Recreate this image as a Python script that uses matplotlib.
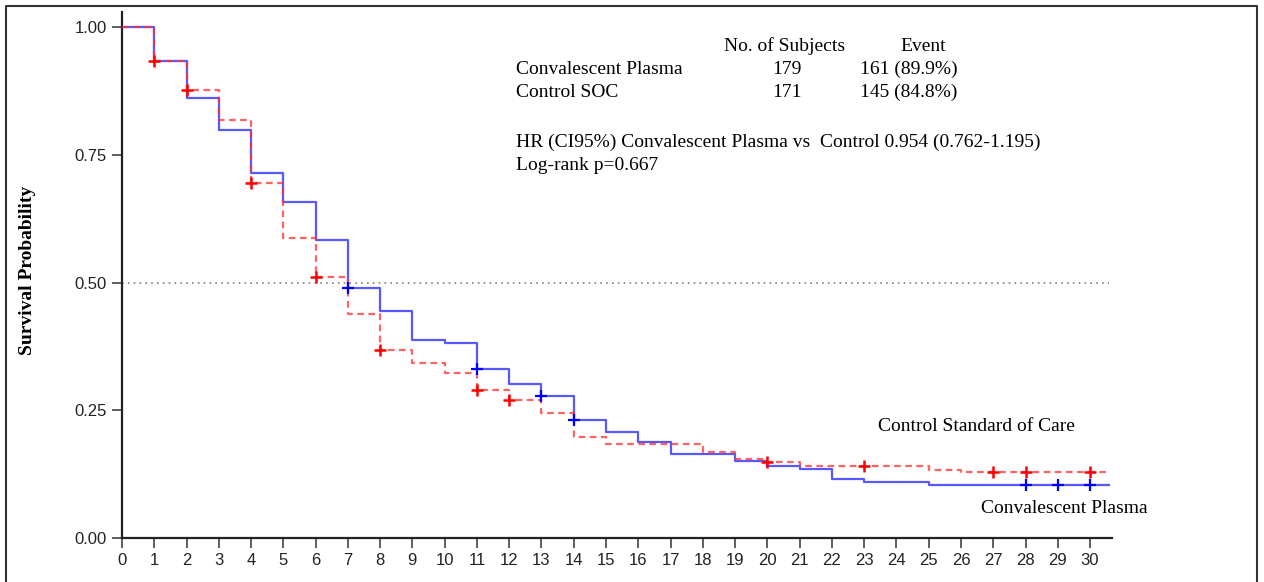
import matplotlib
matplotlib.use('Agg')
import matplotlib.pyplot as plt
from matplotlib.lines import Line2D
import numpy as np

# ── data ───────────────────────────────────────────────────────────────────
days = list(range(0, 31))

# survival estimate on each interval [day, day+1)
cp_surv = [1.000, 0.935, 0.861, 0.798, 0.714, 0.658, 0.583, 0.489, 0.444, 0.387,
           0.382, 0.331, 0.301, 0.278, 0.231, 0.207, 0.188, 0.164, 0.164, 0.151,
           0.141, 0.135, 0.115, 0.110, 0.110, 0.104, 0.104, 0.104, 0.104, 0.104,
           0.104]
soc_surv = [1.000, 0.935, 0.877, 0.818, 0.695, 0.587, 0.511, 0.438, 0.368, 0.342,
            0.323, 0.290, 0.270, 0.245, 0.198, 0.184, 0.184, 0.184, 0.168, 0.155,
            0.149, 0.141, 0.141, 0.141, 0.141, 0.133, 0.129, 0.129, 0.129, 0.129,
            0.129]
end_day = 30.6

cp_censor = [7, 11, 13, 14, 28, 29, 30]
soc_censor = [1, 2, 4, 6, 8, 11, 12, 20, 23, 27, 28, 30]

table_rows = ['Convalescent Plasma', 'Control SOC']
table_n = ['179', '171']
table_events = ['161 (89.9%)', '145 (84.8%)']

SERIF = ['Liberation Serif', 'DejaVu Serif']
SANS = ['Liberation Sans', 'DejaVu Sans']


def step_xy(surv):
    x = np.append(days, end_day)
    y = np.append(surv, surv[-1])
    return x, y


def surv_at(surv, t):
    return surv[min(int(t), len(surv) - 1)]


fig = plt.figure(figsize=(12.64, 5.82), dpi=100)
ax = fig.add_axes([122 / 1264, 1 - 538 / 582, 990 / 1264, 526 / 582])

x, y = step_xy(soc_surv)
ax.step(x, y, where='post', color='#ff3030', lw=1.6, ls=(0, (3, 2)), alpha=0.75, zorder=3)
x, y = step_xy(cp_surv)
ax.step(x, y, where='post', color='#2020ff', lw=1.6, alpha=0.75, zorder=2)

ax.plot(soc_censor, [surv_at(soc_surv, t) for t in soc_censor], ls='none',
        marker='+', ms=8, mew=1.8, color='red', zorder=4)
ax.plot(cp_censor, [surv_at(cp_surv, t) for t in cp_censor], ls='none',
        marker='+', ms=8, mew=1.6, color='blue', zorder=4)

ax.plot([0, end_day], [0.5, 0.5], color='#808080', lw=1.2, ls=(0, (1, 2.5)), zorder=1)

ax.set_xlim(0, 30.68)
ax.set_ylim(0, 1.03)
ax.set_xticks(days)
ax.set_yticks([0, 0.25, 0.5, 0.75, 1.0])
ax.set_yticklabels(['0.00', '0.25', '0.50', '0.75', '1.00'])
for lab in ax.get_xticklabels() + ax.get_yticklabels():
    lab.set_family(SANS)
    lab.set_fontsize(12)
    lab.set_color('#222222')
ax.tick_params(axis='both', direction='out', length=7, width=1.1, color='#333333', pad=4)
ax.spines[['top', 'right']].set_visible(False)
ax.spines[['left', 'bottom']].set_linewidth(1.6)
ax.spines[['left', 'bottom']].set_color('#222222')

fig.text(28 / 1264, 1 - 270 / 582, 'Survival Probability', rotation=90, ha='center',
         va='center', family=SERIF, fontweight='bold', fontsize=14)

# ── annotation block ───────────────────────────────────────────────────────
def px(xp, yp):
    return ((xp - 122) / 32.27, (538 - yp) / 511)

fs = 14
ax.text(*px(724, 46), 'No. of Subjects', family=SERIF, fontsize=fs, va='center')
ax.text(*px(900, 46), 'Event', family=SERIF, fontsize=fs, va='center')
for i, (name, n, ev) in enumerate(zip(table_rows, table_n, table_events)):
    yp = 69 + 23 * i
    ax.text(*px(516, yp), name, family=SERIF, fontsize=fs, va='center')
    ax.text(*px(787, yp), n, family=SERIF, fontsize=fs, va='center', ha='center')
    ax.text(*px(860, yp), ev, family=SERIF, fontsize=fs, va='center')
ax.text(*px(516, 142), 'HR (CI95%) Convalescent Plasma vs  Control 0.954 (0.762-1.195)',
        family=SERIF, fontsize=fs, va='center')
ax.text(*px(516, 165), 'Log-rank p=0.667', family=SERIF, fontsize=fs, va='center')
ax.text(*px(878, 426), 'Control Standard of Care', family=SERIF, fontsize=fs, va='center')
ax.text(*px(981, 508), 'Convalescent Plasma', family=SERIF, fontsize=fs, va='center')

# outer frame (left, top, right)
fx = [5.5 / 1264, 5.5 / 1264, 1256.5 / 1264, 1256.5 / 1264]
fy = [0, 1 - 5.5 / 582, 1 - 5.5 / 582, 0]
fig.add_artist(Line2D(fx, fy, transform=fig.transFigure, color='#333333', lw=1.5))

fig.savefig('out.png', dpi=100)
